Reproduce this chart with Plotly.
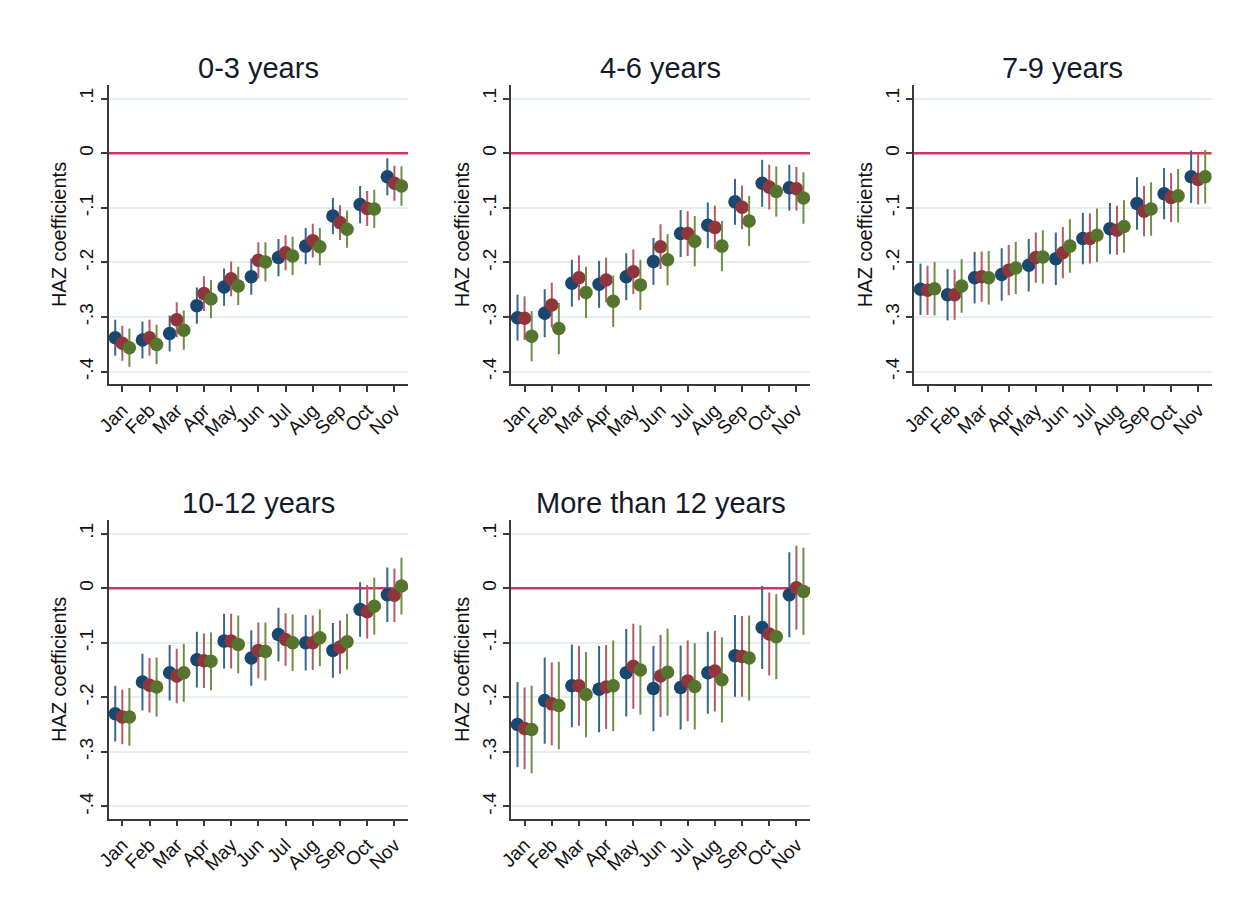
import plotly.graph_objects as go

# Month categories on the x axis
months = ["Jan", "Feb", "Mar", "Apr", "May", "Jun", "Jul", "Aug", "Sep", "Oct", "Nov"]

# Y-axis ticks (Stata-style labels)
y_ticks = [0.1, 0.0, -0.1, -0.2, -0.3, -0.4]
y_tick_text = [".1", "0", "-.1", "-.2", "-.3", "-.4"]

panel_titles = ["0-3 years", "4-6 years", "7-9 years", "10-12 years", "More than 12 years"]

# Coefficients and 95% CI half-widths, three specifications per panel
coef_0_3_a = [-0.338, -0.342, -0.330, -0.279, -0.245, -0.226, -0.191, -0.170, -0.115, -0.094, -0.043]
moe_0_3_a = [0.033, 0.034, 0.033, 0.033, 0.034, 0.033, 0.034, 0.033, 0.033, 0.034, 0.034]
coef_0_3_b = [-0.348, -0.338, -0.305, -0.257, -0.230, -0.196, -0.182, -0.160, -0.127, -0.101, -0.055]
moe_0_3_b = [0.032, 0.033, 0.032, 0.032, 0.032, 0.033, 0.032, 0.031, 0.032, 0.032, 0.032]
coef_0_3_c = [-0.356, -0.350, -0.324, -0.267, -0.243, -0.199, -0.188, -0.171, -0.139, -0.102, -0.060]
moe_0_3_c = [0.035, 0.036, 0.036, 0.035, 0.035, 0.036, 0.035, 0.034, 0.034, 0.035, 0.036]

coef_4_6_a = [-0.301, -0.293, -0.238, -0.240, -0.226, -0.198, -0.147, -0.132, -0.089, -0.055, -0.063]
moe_4_6_a = [0.042, 0.044, 0.043, 0.043, 0.043, 0.043, 0.043, 0.042, 0.042, 0.043, 0.042]
coef_4_6_b = [-0.302, -0.278, -0.228, -0.232, -0.217, -0.171, -0.147, -0.136, -0.099, -0.062, -0.065]
moe_4_6_b = [0.040, 0.041, 0.041, 0.041, 0.041, 0.041, 0.041, 0.040, 0.040, 0.041, 0.040]
coef_4_6_c = [-0.335, -0.321, -0.255, -0.271, -0.241, -0.195, -0.161, -0.170, -0.124, -0.070, -0.082]
moe_4_6_c = [0.046, 0.047, 0.047, 0.047, 0.046, 0.047, 0.046, 0.046, 0.046, 0.046, 0.047]

coef_7_9_a = [-0.249, -0.259, -0.228, -0.222, -0.205, -0.193, -0.156, -0.138, -0.092, -0.074, -0.043]
moe_7_9_a = [0.047, 0.047, 0.047, 0.048, 0.048, 0.048, 0.047, 0.047, 0.048, 0.047, 0.048]
coef_7_9_b = [-0.251, -0.259, -0.226, -0.214, -0.191, -0.182, -0.156, -0.141, -0.106, -0.081, -0.048]
moe_7_9_b = [0.045, 0.046, 0.046, 0.046, 0.046, 0.047, 0.046, 0.045, 0.046, 0.045, 0.046]
coef_7_9_c = [-0.248, -0.243, -0.228, -0.210, -0.190, -0.170, -0.150, -0.134, -0.102, -0.078, -0.043]
moe_7_9_c = [0.049, 0.049, 0.049, 0.048, 0.049, 0.049, 0.049, 0.048, 0.049, 0.049, 0.049]

coef_10_12_a = [-0.230, -0.172, -0.155, -0.131, -0.097, -0.128, -0.085, -0.100, -0.114, -0.039, -0.012]
moe_10_12_a = [0.051, 0.052, 0.051, 0.051, 0.050, 0.051, 0.049, 0.051, 0.050, 0.050, 0.050]
coef_10_12_b = [-0.236, -0.178, -0.161, -0.133, -0.097, -0.114, -0.094, -0.100, -0.108, -0.043, -0.013]
moe_10_12_b = [0.050, 0.050, 0.050, 0.050, 0.050, 0.051, 0.048, 0.050, 0.049, 0.049, 0.049]
coef_10_12_c = [-0.236, -0.181, -0.155, -0.134, -0.103, -0.116, -0.100, -0.091, -0.098, -0.033, 0.004]
moe_10_12_c = [0.053, 0.054, 0.053, 0.053, 0.053, 0.053, 0.052, 0.052, 0.051, 0.052, 0.052]

coef_12p_a = [-0.250, -0.206, -0.179, -0.185, -0.155, -0.184, -0.182, -0.155, -0.124, -0.072, -0.012]
moe_12p_a = [0.078, 0.079, 0.076, 0.079, 0.080, 0.078, 0.077, 0.075, 0.075, 0.076, 0.078]
coef_12p_b = [-0.257, -0.212, -0.179, -0.181, -0.143, -0.161, -0.170, -0.152, -0.125, -0.084, 0.001]
moe_12p_b = [0.075, 0.076, 0.073, 0.077, 0.078, 0.075, 0.074, 0.074, 0.074, 0.076, 0.077]
coef_12p_c = [-0.259, -0.215, -0.195, -0.179, -0.150, -0.154, -0.180, -0.168, -0.128, -0.089, -0.006]
moe_12p_c = [0.080, 0.080, 0.078, 0.083, 0.082, 0.080, 0.079, 0.078, 0.078, 0.078, 0.080]

panels = [
    [(coef_0_3_a, moe_0_3_a), (coef_0_3_b, moe_0_3_b), (coef_0_3_c, moe_0_3_c)],
    [(coef_4_6_a, moe_4_6_a), (coef_4_6_b, moe_4_6_b), (coef_4_6_c, moe_4_6_c)],
    [(coef_7_9_a, moe_7_9_a), (coef_7_9_b, moe_7_9_b), (coef_7_9_c, moe_7_9_c)],
    [(coef_10_12_a, moe_10_12_a), (coef_10_12_b, moe_10_12_b), (coef_10_12_c, moe_10_12_c)],
    [(coef_12p_a, moe_12p_a), (coef_12p_b, moe_12p_b), (coef_12p_c, moe_12p_c)],
]

marker_colors = ["#1a476f", "#90353b", "#55752f"]
bar_colors = ["#3a6590", "#b65a64", "#6f8f45"]
offsets = [-0.26, 0.0, 0.26]

W, H = 1247, 912
FONT = "Arial, Liberation Sans, sans-serif"

# Panel placement in pixels: (left, right) and (top, bottom) of each plot area
col_px = [(108.7, 408.0), (511.0, 810.0), (914.0, 1211.7)]
row_px = [(85.0, 384.0), (520.0, 818.7)]
cells = [(0, 0), (0, 1), (0, 2), (1, 0), (1, 1)]

fig = go.Figure()
layout = {}
x_pos = list(range(1, len(months) + 1))

for i, (series, title) in enumerate(zip(panels, panel_titles)):
    r, c = cells[i]
    xl, xr = col_px[c]
    yt, yb = row_px[r]
    sfx = "" if i == 0 else str(i + 1)
    xa, ya = "x" + sfx, "y" + sfx

    layout["xaxis" + sfx] = dict(
        domain=[xl / W, xr / W], anchor=ya, range=[0.5, 11.5], automargin=False,
        tickvals=x_pos, ticktext=months, tickangle=-45,
        showline=True, linecolor="#3a3a3a", linewidth=1.5,
        ticks="outside", ticklen=6, tickwidth=1.5, tickcolor="#3a3a3a",
        showgrid=False, zeroline=False,
        tickfont=dict(family=FONT, size=19, color="#111"),
    )
    layout["yaxis" + sfx] = dict(
        domain=[1 - yb / H, 1 - yt / H], anchor=xa, range=[-0.4225, 0.125],
        automargin=False,
        tickvals=y_ticks, ticktext=y_tick_text, tickangle=-90,
        showline=True, linecolor="#3a3a3a", linewidth=1.5,
        ticks="outside", ticklen=6, tickwidth=1.5, tickcolor="#3a3a3a",
        showgrid=True, gridcolor="#e6eef0", gridwidth=1.5, zeroline=False,
        tickfont=dict(family=FONT, size=19, color="#111"),
        title=dict(text="HAZ coefficients", font=dict(family=FONT, size=20, color="#111"),
                   standoff=4),
    )

    # Reference line at zero, drawn as the first trace so the markers sit on top
    fig.add_trace(go.Scatter(
        x=[0.5, 11.5], y=[0, 0], xaxis=xa, yaxis=ya, mode="lines",
        line=dict(color="#c8385f", width=2.5), showlegend=False, hoverinfo="skip",
    ))

    for k, (coef, moe) in enumerate(series):
        fig.add_trace(go.Scatter(
            x=[p + offsets[k] for p in x_pos], y=coef, xaxis=xa, yaxis=ya,
            mode="markers", showlegend=False,
            marker=dict(size=13.5, color=marker_colors[k], line=dict(width=0)),
            error_y=dict(type="data", array=moe, visible=True, color=bar_colors[k],
                         thickness=2, width=0),
        ))

    fig.add_annotation(
        text=title, xref="paper", yref="paper",
        x=(xl + xr) / 2 / W, y=1 - (yt - 17) / H, xanchor="center", yanchor="middle",
        showarrow=False, font=dict(family=FONT, size=29, color="#141a2a"),
    )

fig.update_layout(
    width=W, height=H, margin=dict(l=0, r=0, t=0, b=0),
    paper_bgcolor="white", plot_bgcolor="white",
    **layout,
)

fig.write_html("out.html")
